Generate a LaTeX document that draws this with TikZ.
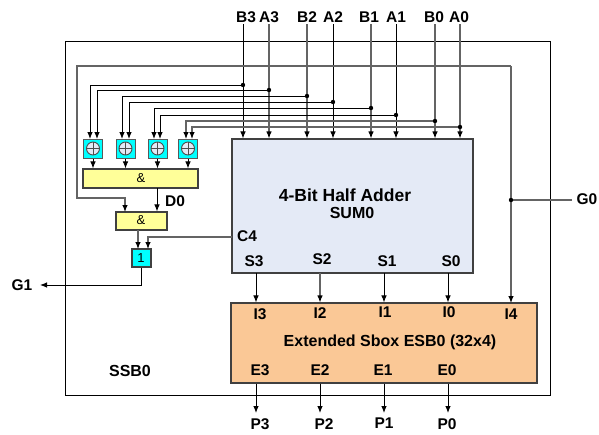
\documentclass[tikz,border=0pt]{standalone}
\usepackage{fontspec}
\setmainfont{Liberation Sans}
\usetikzlibrary{calc,arrows.meta}
\definecolor{addfill}{RGB}{228,234,246}
\definecolor{sboxfill}{RGB}{250,200,150}
\definecolor{andfill}{RGB}{255,255,153}
\definecolor{gatecyan}{RGB}{0,255,255}
\definecolor{wiregray}{RGB}{100,100,100}
\tikzset{
    wire/.style={line width=0.9pt,black},
    graywire/.style={line width=1.1pt,wiregray},
    arr/.style={-{Latex[length=7pt,width=5.5pt,color=black]}},
    lbl/.style={font=\bfseries\fontsize{15.5}{15.5}\selectfont,inner sep=0pt},
    biglbl/.style={font=\bfseries\fontsize{16}{16}\selectfont,inner sep=0pt},
    gatetxt/.style={font=\fontsize{13}{13}\selectfont,inner sep=0pt},
    blockbox/.style={draw=black!75,line width=1.1pt,inner sep=0pt},
    xorbox/.style={draw=black!65,line width=1pt,fill=gatecyan,inner sep=0pt,minimum width=19pt,minimum height=19pt,
        path picture={
            \draw[black!70,line width=0.9pt,fill=addfill] (path picture bounding box.center) circle (6.5pt);
            \draw[black!70,line width=0.9pt] ($(path picture bounding box.center)+(-6.5pt,0)$) -- ($(path picture bounding box.center)+(6.5pt,0)$);
            \draw[black!70,line width=0.9pt] ($(path picture bounding box.center)+(0,-6.5pt)$) -- ($(path picture bounding box.center)+(0,6.5pt)$);
        }},
}
\begin{document}
\begin{tikzpicture}[x=1pt,y=-1pt]
        \useasboundingbox (0,0) rectangle (599,434);

        % outer frame
        \draw[wire] (65,41) rectangle (550,395);

        % blocks
        \node[blockbox,fill=addfill,minimum width=241pt,minimum height=134pt] (SUM) at (352.5,206) {};
        \node[blockbox,fill=sboxfill,minimum width=306pt,minimum height=80pt] (ESB) at (384,343) {};
        \node[xorbox] (X3) at (93,148.5) {};
        \node[xorbox] (X2) at (125.5,148.5) {};
        \node[xorbox] (X1) at (157.5,148.5) {};
        \node[xorbox] (X0) at (188,148.5) {};
        \node[blockbox,fill=andfill,minimum width=115pt,minimum height=19pt] (ANDa) at (140.5,178.5) {};
        \node[blockbox,fill=andfill,minimum width=51pt,minimum height=18pt] (ANDb) at (141.5,221) {};
        \node[blockbox,fill=gatecyan,minimum width=19pt,minimum height=18pt] (OR) at (141.5,258) {};

        % inputs
        \coordinate (tB3) at (243,24);
        \coordinate (tA3) at (269,24);
        \coordinate (tB2) at (307,24);
        \coordinate (tA2) at (333,24);
        \coordinate (tB1) at (371,24);
        \coordinate (tA1) at (396,24);
        \coordinate (tB0) at (435,24);
        \coordinate (tA0) at (460,24);

        % branch points
        \coordinate (dB3) at (243,85);
        \coordinate (dA3) at (269,90);
        \coordinate (dB2) at (307,96);
        \coordinate (dA2) at (333,102);
        \coordinate (dB1) at (371,108);
        \coordinate (dA1) at (396,115);
        \coordinate (dB0) at (435,121);
        \coordinate (dA0) at (460,127);

        % xor inputs
        \coordinate (xB3) at (90,139);
        \coordinate (xA3) at (97,139);
        \coordinate (xB2) at (122,139);
        \coordinate (xA2) at (129,139);
        \coordinate (xB1) at (154,139);
        \coordinate (xA1) at (160,139);
        \coordinate (xB0) at (186,139);
        \coordinate (xA0) at (192,139);

        % G0 loop
        \coordinate (gIn) at (572,200);
        \coordinate (gDot) at (511,200);
        \coordinate (gTR) at (511,66);
        \coordinate (gTL) at (77,66);
        \coordinate (gBL) at (77,198);
        \coordinate (gAnd) at (125,212);
        \coordinate (iI4) at (511,303);

        \coordinate (aAnd) at (138,230);
        \coordinate (aOr) at (138,249);
        \coordinate (cC4) at (232,237);
        \coordinate (bOr) at (148,249);
        \coordinate (eG1) at (40,285);

        \draw[wire,arr] (tB3) -- (tB3 |- SUM.north);
        \draw[graywire,arr] (tA3) -- (tA3 |- SUM.north);
        \draw[graywire,arr] (tB2) -- (tB2 |- SUM.north);
        \draw[wire,arr] (tA2) -- (tA2 |- SUM.north);
        \draw[graywire,arr] (tB1) -- (tB1 |- SUM.north);
        \draw[wire,arr] (tA1) -- (tA1 |- SUM.north);
        \draw[graywire,arr] (tB0) -- (tB0 |- SUM.north);
        \draw[graywire,arr] (tA0) -- (tA0 |- SUM.north);

        \draw[wire,arr] (dB3) -| (xB3);
        \draw[wire,arr] (dA3) -| (xA3);
        \draw[wire,arr] (dB2) -| (xB2);
        \draw[wire,arr] (dA2) -| (xA2);
        \draw[wire,arr] (dB1) -| (xB1);
        \draw[wire,arr] (dA1) -| (xA1);
        \draw[graywire,arr] (dB0) -| (xB0);
        \draw[graywire,arr] (dA0) -| (xA0);

        \fill (dB3) circle (2.2);
        \fill (dA3) circle (2.2);
        \fill (dB2) circle (2.2);
        \fill (dA2) circle (2.2);
        \fill (dB1) circle (2.2);
        \fill (dA1) circle (2.2);
        \fill (dB0) circle (2.2);
        \fill (dA0) circle (2.2);

        \draw[graywire,arr] (gTR) -- (iI4);
        \draw[graywire,arr] (gTR) -- (gTL) -- (gBL) -| (gAnd);
        \draw[graywire] (gIn) -- (gDot);
        \fill (gDot) circle (2.2);

        \draw[wire,arr] (X3.south) -- (X3 |- ANDa.north);
        \draw[wire,arr] (X2.south) -- (X2 |- ANDa.north);
        \draw[wire,arr] (X1.south) -- (X1 |- ANDa.north);
        \draw[wire,arr] (X0.south) -- (X0 |- ANDa.north);

        \coordinate (dOut) at (157,188);
        \draw[wire,arr] (dOut) -- (dOut |- ANDb.north);
        \draw[graywire,arr] (aAnd) -- (aOr);
        \draw[graywire,arr] (cC4) -| (bOr);
        \draw[wire,arr] (OR.south) |- (eG1);

        % S -> I, E -> P
        \coordinate (s3) at (256,273);
        \coordinate (s2) at (320,273);
        \coordinate (s1) at (384,273);
        \coordinate (s0) at (448,273);
        \coordinate (e3) at (256,413);
        \coordinate (e2) at (320,413);
        \coordinate (e1) at (384,413);
        \coordinate (e0) at (448,413);
        \draw[wire,arr] (s3) -- (s3 |- ESB.north);
        \draw[graywire,arr] (s2) -- (s2 |- ESB.north);
        \draw[wire,arr] (s1) -- (s1 |- ESB.north);
        \draw[wire,arr] (s0) -- (s0 |- ESB.north);
        \draw[wire,arr] (e3 |- ESB.south) -- (e3);
        \draw[wire,arr] (e2 |- ESB.south) -- (e2);
        \draw[wire,arr] (e1 |- ESB.south) -- (e1);
        \draw[wire,arr] (e0 |- ESB.south) -- (e0);

        % labels
        \node[lbl] (lB3) at (246,17) {B3};
        \node[lbl] (lA3) at (269,17) {A3};
        \node[lbl] (lB2) at (307,17) {B2};
        \node[lbl] (lA2) at (333,17) {A2};
        \node[lbl] (lB1) at (369,17) {B1};
        \node[lbl] (lA1) at (396,17) {A1};
        \node[lbl] (lB0) at (434,17) {B0};
        \node[lbl] (lA0) at (459,17) {A0};
        \node[lbl] (lG0) at (587,199) {G0};
        \node[lbl] (lG1) at (22,285) {G1};
        \node[lbl] (lD0) at (175,201) {D0};
        \node[lbl] (lC4) at (247,236) {C4};
        \node[biglbl] (lAdd) at (345,195) {\fontsize{17.5}{17.5}\selectfont 4-Bit Half Adder};
        \node[biglbl] (lSum) at (352,213) {SUM0};
        \node[lbl] (lS3) at (254,261) {S3};
        \node[lbl] (lS2) at (322,259) {S2};
        \node[lbl] (lS1) at (387,261) {S1};
        \node[lbl] (lS0) at (451,261) {S0};
        \node[lbl] (lI3) at (260,314) {I3};
        \node[lbl] (lI2) at (320,313) {I2};
        \node[lbl] (lI1) at (385,312.5) {I1};
        \node[lbl] (lI0) at (449,312) {I0};
        \node[lbl] (lI4) at (511,314) {I4};
        \node[biglbl] (lEsb) at (390,342) {Extended Sbox ESB0 (32x4)};
        \node[lbl] (lE3) at (260,370) {E3};
        \node[lbl] (lE2) at (320,370) {E2};
        \node[lbl] (lE1) at (383,370) {E1};
        \node[lbl] (lE0) at (447,370) {E0};
        \node[lbl] (lP3) at (260,424) {P3};
        \node[lbl] (lP2) at (324,424) {P2};
        \node[lbl] (lP1) at (384,423) {P1};
        \node[lbl] (lP0) at (447,424) {P0};
        \node[biglbl] (lSsb) at (130,371) {SSB0};
        \node[gatetxt] (lAa) at (141,178) {\&};
        \node[gatetxt] (lAb) at (141,220.5) {\&};
        \node[gatetxt] (lOr) at (141,258) {1};
    \end{tikzpicture}
\end{document}
